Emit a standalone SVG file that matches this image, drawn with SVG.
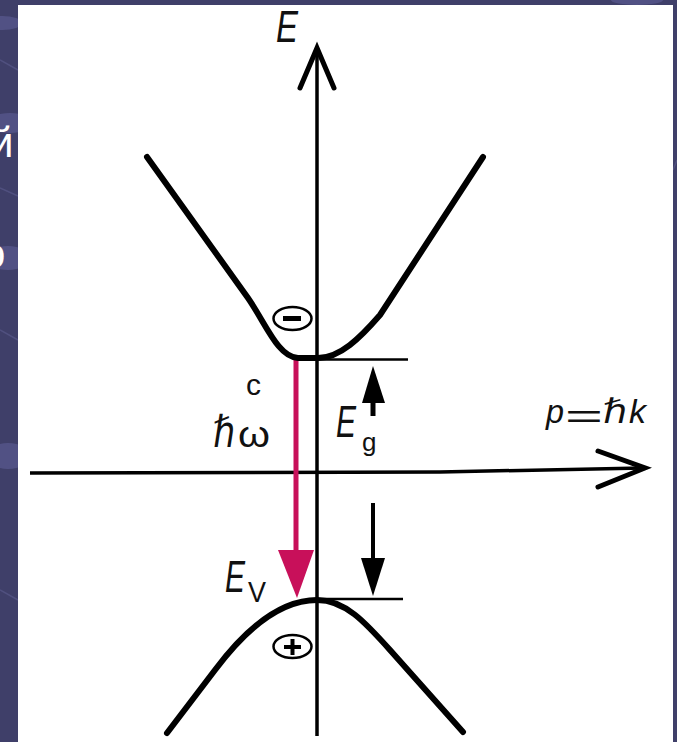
<svg xmlns="http://www.w3.org/2000/svg" width="677" height="742" viewBox="0 0 677 742">
<defs>
<style>
.lbl{font-family:"Liberation Sans","DejaVu Sans",sans-serif;fill:#111}
.it{font-style:italic}
.curve{fill:none;stroke:#000;stroke-width:6;stroke-linecap:round;stroke-linejoin:round}
.axis{fill:none;stroke:#000;stroke-width:3.5}
.head{fill:none;stroke:#000;stroke-width:5;stroke-linecap:round;stroke-linejoin:miter}
.lvl{stroke:#000;stroke-width:2.5}
.slide{font-family:"Liberation Sans","DejaVu Sans",sans-serif;font-size:42px;fill:#fff}
.glow{fill:#5a5a90;opacity:0.7}
.streak{stroke:#5c5c8e;stroke-width:1.5;fill:none;opacity:0.6}
</style>
</defs>
<g id="slide-background">
<rect width="677" height="742" fill="#3f3f69"/>
<ellipse class="glow" cx="2" cy="23" rx="20" ry="7"/>
<ellipse class="glow" cx="10" cy="123" rx="22" ry="10"/>
<ellipse class="glow" cx="8" cy="258" rx="22" ry="12"/>
<ellipse class="glow" cx="8" cy="456" rx="22" ry="13"/>
<ellipse class="glow" cx="637" cy="0" rx="26" ry="5"/>
<path class="streak" d="M0,60 L18,70"/>
<path class="streak" d="M0,188 L18,196"/>
<path class="streak" d="M0,330 L18,340"/>
<path class="streak" d="M0,590 L18,600"/>
<path class="streak" d="M673,170 L677,160"/>
<text class="slide" x="-10" y="157">й</text>
<text class="slide" x="-18" y="268">о</text>
</g>
<rect id="panel" x="18" y="5" width="655" height="737" fill="#fff"/>
<g id="connectors">
<g id="energy-axis">
<line class="axis" x1="317" y1="50" x2="317" y2="736"/>
<polyline class="head" points="300,88 317,48 334,88"/>
</g>
<g id="momentum-axis">
<polyline class="axis" points="30,473 440,472 643,468" stroke-width="4"/>
<polyline class="head" points="598,451 645,468 598,487"/>
</g>
<g id="transition-arrow">
<line x1="296" y1="359" x2="296" y2="553" stroke="#c8105a" stroke-width="5"/>
<polygon points="278,550 314,550 297,598" fill="#c8105a"/>
</g>
<g id="gap-arrow-up">
<line x1="373" y1="416" x2="373" y2="398" stroke="#000" stroke-width="5"/>
<polygon points="373,366 362,403 385,403" fill="#000"/>
</g>
<g id="gap-arrow-down">
<line x1="373" y1="503" x2="373" y2="562" stroke="#000" stroke-width="4"/>
<polygon points="361,558 385,558 373,596" fill="#000"/>
</g>
</g>
<g id="conduction-band">
<path class="curve" d="M147,157 L248,298 C266,324 278,357 298,358 L318,358 C340,358 360,338 380,315 L483,157"/>
<line class="lvl" x1="317" y1="359.5" x2="408" y2="359.5"/>
</g>
<g id="valence-band">
<path class="curve" d="M167,733 L215,670 C245,630 280,600 317,600 C345,600 365,622 390,650 L463,732"/>
<line class="lvl" x1="317" y1="599" x2="403" y2="599"/>
</g>
<g id="electron">
<ellipse cx="292.5" cy="318.5" rx="19" ry="11.5" fill="none" stroke="#000" stroke-width="2.5"/>
<line x1="283" y1="318.5" x2="301" y2="318.5" stroke="#000" stroke-width="5"/>
</g>
<g id="hole">
<ellipse cx="292.5" cy="646.5" rx="19" ry="11.5" fill="none" stroke="#000" stroke-width="2.5"/>
<line x1="284" y1="647" x2="301" y2="647" stroke="#000" stroke-width="4"/>
<line x1="292.5" y1="639" x2="292.5" y2="655" stroke="#000" stroke-width="4"/>
</g>
<g id="labels">
<text class="lbl it" x="276" y="42" font-size="44" textLength="22" lengthAdjust="spacingAndGlyphs">E</text>
<text class="lbl" x="246" y="395" font-size="30">c</text>
<text class="lbl" x="213" y="447" font-size="44" textLength="22" lengthAdjust="spacingAndGlyphs">ℏ</text>
<text class="lbl" x="238" y="447" font-size="36" textLength="32" lengthAdjust="spacingAndGlyphs">ω</text>
<text class="lbl it" x="336" y="437" font-size="44" textLength="20" lengthAdjust="spacingAndGlyphs">E</text>
<text class="lbl" x="362" y="451" font-size="26">g</text>
<text class="lbl it" x="225" y="592" font-size="44" textLength="20" lengthAdjust="spacingAndGlyphs">E</text>
<text class="lbl" x="248" y="602" font-size="30" textLength="18" lengthAdjust="spacingAndGlyphs">V</text>
<text class="lbl it" x="546" y="423" font-size="34" textLength="18" lengthAdjust="spacingAndGlyphs">p</text>
<text class="lbl" x="565" y="428" font-size="34" textLength="38" lengthAdjust="spacingAndGlyphs">=</text>
<text class="lbl it" x="603" y="423" font-size="34" textLength="24" lengthAdjust="spacingAndGlyphs">ℏ</text>
<text class="lbl it" x="629" y="423" font-size="34">k</text>
</g>
</svg>
